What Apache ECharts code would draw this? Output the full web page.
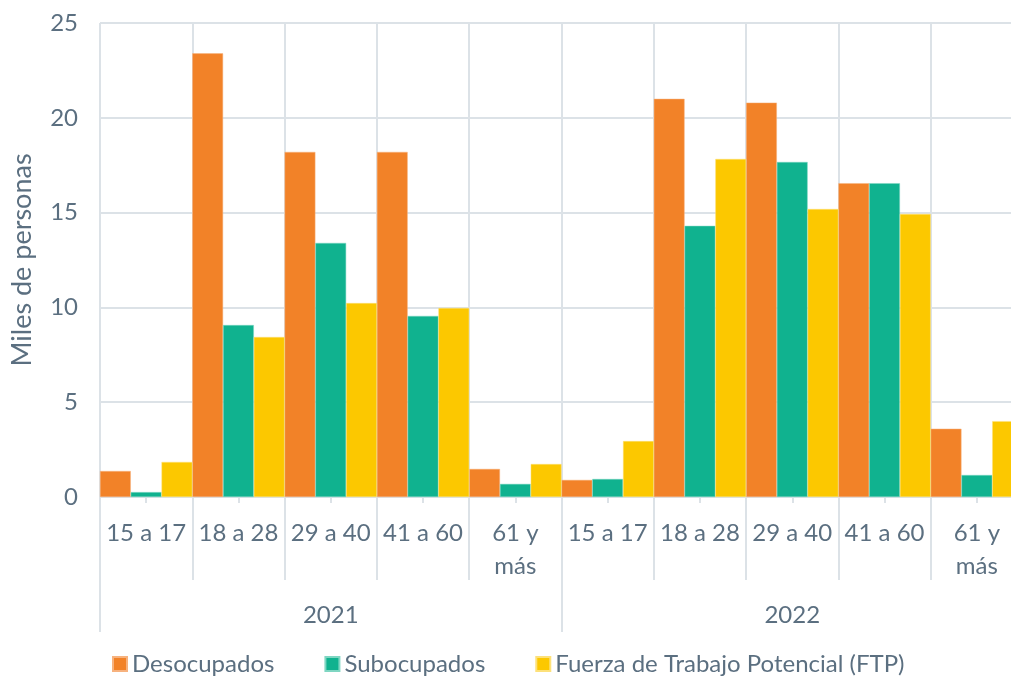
<!DOCTYPE html>
<html>
<head>
<meta charset="utf-8">
<script src="https://cdn.jsdelivr.net/npm/echarts@6/dist/echarts.min.js"></script>
<style>
html, body { margin: 0; padding: 0; background: #fff; }
#chart { width: 1011px; height: 682px; }
</style>
</head>
<body>
<div id="chart"></div>
<script>
var ageGroups = ['15 a 17', '18 a 28', '29 a 40', '41 a 60', '61 y\nmás',
                 '15 a 17', '18 a 28', '29 a 40', '41 a 60', '61 y\nmás'];
var years = ['2021', '2022'];
var yTicks = [0, 5, 10, 15, 20, 25];

var desocupados = [1.37, 23.4, 18.2, 18.2, 1.48, 0.9, 21.0, 20.8, 16.55, 3.6];
var subocupados = [0.26, 9.07, 13.4, 9.55, 0.69, 0.95, 14.3, 17.67, 16.55, 1.16];
var ftp = [1.85, 8.44, 10.23, 9.97, 1.74, 2.95, 17.83, 15.19, 14.93, 4.0];

var chart = echarts.init(document.getElementById('chart'));

var textColor = '#5b6f80';
var gridColor = '#dce2e7';
var font = 'Lato';

var option = {
    animation: false,
    textStyle: { fontFamily: font },
    grid: { left: 100, width: 923, top: 23, height: 474, outerBoundsMode: 'none', containLabel: false },
    legend: {
        bottom: 1,
        left: 107,
        itemWidth: 14,
        itemHeight: 14,
        itemGap: 50,
        icon: 'rect',
        textStyle: { color: textColor, fontSize: 24, fontFamily: font },
        data: ['Desocupados', 'Subocupados', 'Fuerza de Trabajo Potencial (FTP)']
    },
    xAxis: [{
        type: 'category',
        data: ageGroups,
        axisLine: { lineStyle: { color: gridColor, width: 2 } },
        axisTick: { show: true, length: 83, lineStyle: { color: gridColor, width: 2 } },
        splitLine: { show: true, lineStyle: { color: gridColor, width: 2 } },
        axisLabel: { color: textColor, fontSize: 24, margin: 20, lineHeight: 33, interval: 0 }
    }, {
        type: 'category',
        data: ageGroups,
        position: 'bottom',
        axisLine: { show: false },
        axisTick: { show: true, alignWithLabel: true, length: 6, lineStyle: { color: gridColor, width: 2 } },
        axisLabel: { show: false },
        splitLine: { show: false }
    }, {
        type: 'category',
        data: years,
        position: 'bottom',
        axisLine: { show: false },
        axisTick: { show: true, length: 135, lineStyle: { color: gridColor, width: 2 } },
        axisLabel: { color: textColor, fontSize: 24, margin: 106 },
        splitLine: { show: false }
    }],
    yAxis: {
        type: 'value',
        min: yTicks[0],
        max: yTicks[yTicks.length - 1],
        interval: 5,
        name: 'Miles de personas',
        nameLocation: 'middle',
        nameGap: 64,
        nameTextStyle: { color: textColor, fontSize: 27, fontFamily: font },
        axisLine: { show: false },
        axisTick: { show: false },
        axisLabel: { color: textColor, fontSize: 24, margin: 22 },
        splitLine: { lineStyle: { color: gridColor, width: 2 } }
    },
    series: [{
        name: 'Desocupados',
        type: 'bar',
        data: desocupados,
        barGap: '0%',
        barCategoryGap: '0%',
        itemStyle: { color: '#f28228', borderColor: '#f7b27e', borderWidth: 0.5 }
    }, {
        name: 'Subocupados',
        type: 'bar',
        data: subocupados,
        barGap: '0%',
        barCategoryGap: '0%',
        itemStyle: { color: '#10b28f', borderColor: '#7fd6c2', borderWidth: 0.5 }
    }, {
        name: 'Fuerza de Trabajo Potencial (FTP)',
        type: 'bar',
        data: ftp,
        barGap: '0%',
        barCategoryGap: '0%',
        itemStyle: { color: '#fcc800', borderColor: '#fde17a', borderWidth: 0.5 }
    }]
};

chart.setOption(option);
</script>
</body>
</html>
